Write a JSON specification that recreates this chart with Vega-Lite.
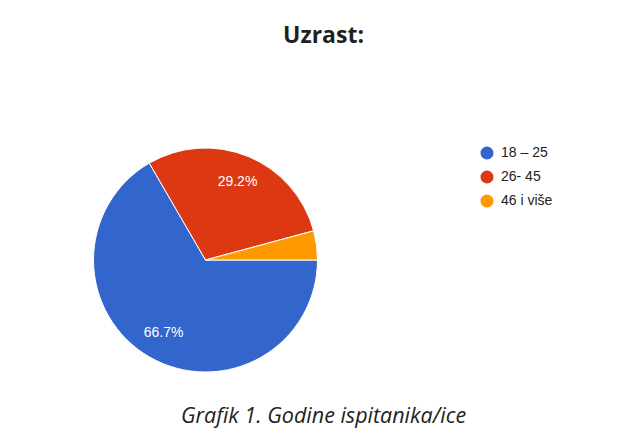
{
  "$schema": "https://vega.github.io/schema/vega-lite/v6.json",
  "width": 631,
  "height": 371,
  "autosize": {"type": "none"},
  "padding": {"left": 0, "top": 73, "right": 0, "bottom": 0},
  "background": "white",
  "title": {
    "text": "Uzrast:",
    "frame": "group",
    "anchor": "middle",
    "orient": "top",
    "offset": 7,
    "dx": 8,
    "baseline": "alphabetic",
    "font": "Open Sans",
    "fontSize": 23,
    "fontWeight": "bold",
    "color": "#231f20"
  },
  "config": {
    "view": {"stroke": null}
  },
  "data": {
    "values": [
      {"group": "18 – 25", "value": 66.7, "label": "66.7%", "order": 1},
      {"group": "26- 45", "value": 29.2, "label": "29.2%", "order": 2},
      {"group": "46 i više", "value": 4.2, "label": "", "order": 3}
    ]
  },
  "layer": [
    {
      "mark": {"type": "arc", "x": 205.5, "y": 187, "outerRadius": 112, "stroke": "white", "strokeWidth": 1},
      "encoding": {
        "theta": {"field": "value", "type": "quantitative", "stack": true, "scale": {"range": [1.5708, 7.854]}},
        "order": {"field": "order", "type": "quantitative"},
        "color": {
          "field": "group",
          "type": "nominal",
          "sort": ["18 – 25", "26- 45", "46 i više"],
          "scale": {"domain": ["18 – 25", "26- 45", "46 i više"], "range": ["#3366cc", "#dc3912", "#ff9900"]},
          "legend": {
            "title": null,
            "orient": "none",
            "legendX": 480,
            "legendY": 73,
            "symbolType": "circle",
            "symbolSize": 170,
            "symbolStrokeWidth": 0,
            "labelFont": "Liberation Sans",
            "labelFontSize": 14,
            "labelColor": "#222222",
            "labelOffset": 7,
            "rowPadding": 10,
            "padding": 0
          }
        }
      }
    },
    {
      "mark": {"type": "text", "x": 205.5, "y": 187, "radius": 84, "font": "Liberation Sans", "fontSize": 14, "fill": "white", "align": "center", "baseline": "middle"},
      "encoding": {
        "theta": {"field": "value", "type": "quantitative", "stack": true, "scale": {"range": [1.5708, 7.854]}},
        "order": {"field": "order", "type": "quantitative"},
        "text": {"field": "label", "type": "nominal"}
      }
    },
    {
      "data": {"values": [{"caption": "Grafik 1. Godine ispitanika/ice"}]},
      "mark": {"type": "text", "x": 323.5, "y": 350, "font": "Open Sans", "fontStyle": "italic", "fontSize": 21.5, "fill": "#231f20", "align": "center", "baseline": "alphabetic"},
      "encoding": {"text": {"field": "caption", "type": "nominal"}}
    }
  ]
}
